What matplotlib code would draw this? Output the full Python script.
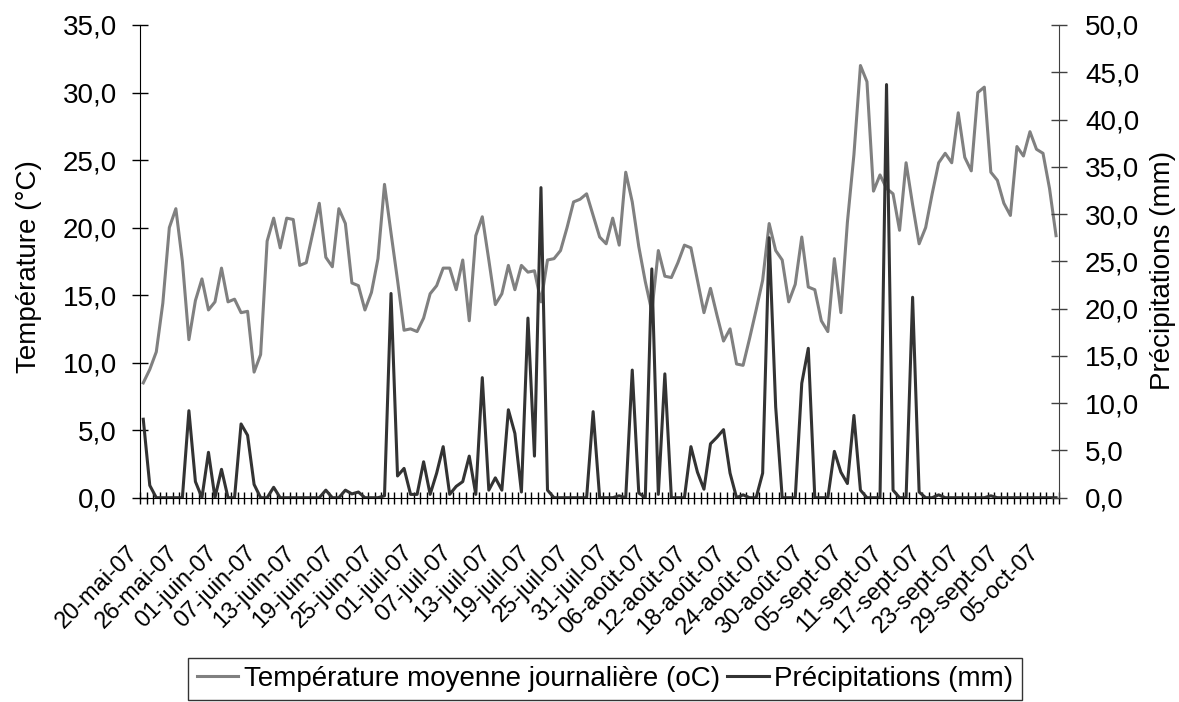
import matplotlib
matplotlib.use("Agg")
import matplotlib.pyplot as plt
import numpy as np
from matplotlib.lines import Line2D
import matplotlib.transforms as mtransforms

plt.rcParams['font.family'] = ['Liberation Sans', 'DejaVu Sans']

# Daily mean temperature (°C), 20 May -> 7 Oct 2007
temperature = [
    8.5, 9.5, 10.8, 14.4, 20.0, 21.4, 17.5, 11.7, 14.6, 16.2,
    13.9, 14.5, 17.0, 14.5, 14.7, 13.7, 13.8, 9.3, 10.6, 19.0,
    20.7, 18.5, 20.7, 20.6, 17.2, 17.4, 19.6, 21.8, 17.8, 17.1,
    21.4, 20.3, 15.9, 15.7, 13.9, 15.2, 17.7, 23.2, 19.6, 16.1,
    12.4, 12.5, 12.3, 13.3, 15.1, 15.7, 17.0, 17.0, 15.4, 17.6,
    13.1, 19.4, 20.8, 17.6, 14.3, 15.1, 17.2, 15.4, 17.2, 16.7,
    16.8, 14.5, 17.6, 17.7, 18.3, 20.0, 21.9, 22.1, 22.5, 20.9,
    19.3, 18.8, 20.7, 18.7, 24.1, 21.9, 18.6, 16.0, 13.8, 18.3,
    16.4, 16.3, 17.4, 18.7, 18.5, 16.1, 13.7, 15.5, 13.5, 11.6,
    12.5, 9.9, 9.8, 11.8, 13.9, 16.1, 20.3, 18.3, 17.6, 14.5,
    15.8, 19.3, 15.6, 15.4, 13.1, 12.3, 17.7, 13.7, 20.4, 25.4,
    32.0, 30.8, 22.7, 23.9, 22.9, 22.5, 19.8, 24.8, 21.7, 18.8,
    20.0, 22.5, 24.8, 25.5, 24.8, 28.5, 25.2, 24.2, 30.0, 30.4,
    24.1, 23.5, 21.8, 20.9, 26.0, 25.3, 27.1, 25.8, 25.5, 22.9,
    19.4,
]

# Daily precipitation (mm)
precipitation = [
    8.3, 1.3, 0.0, 0.0, 0.0, 0.0, 0.0, 9.2, 1.7, 0.0,
    4.8, 0.0, 3.0, 0.0, 0.0, 7.8, 6.6, 1.4, 0.0, 0.0,
    1.1, 0.0, 0.0, 0.0, 0.0, 0.0, 0.0, 0.0, 0.8, 0.0,
    0.0, 0.8, 0.4, 0.6, 0.0, 0.0, 0.0, 0.2, 21.6, 2.3,
    3.1, 0.35, 0.35, 3.8, 0.35, 2.6, 5.4, 0.35, 1.2, 1.7,
    4.4, 0.35, 12.7, 0.8, 2.1, 0.8, 9.3, 6.8, 0.6, 19.0,
    4.4, 32.8, 0.8, 0.0, 0.0, 0.0, 0.0, 0.0, 0.0, 9.1,
    0.0, 0.0, 0.0, 0.2, 0.0, 13.5, 0.5, 0.0, 24.2, 0.35,
    13.1, 0.0, 0.0, 0.0, 5.4, 2.7, 0.9, 5.7, 6.4, 7.2,
    2.6, 0.0, 0.3, 0.0, 0.0, 2.6, 27.5, 9.6, 0.0, 0.0,
    0.0, 12.1, 15.8, 0.0, 0.0, 0.0, 4.9, 2.7, 1.5, 8.7,
    0.8, 0.0, 0.0, 0.0, 43.7, 0.8, 0.0, 0.0, 21.2, 0.6,
    0.0, 0.0, 0.3, 0.0, 0.0, 0.0, 0.0, 0.0, 0.0, 0.0,
    0.2, 0.0, 0.0, 0.0, 0.0, 0.0, 0.0, 0.0, 0.0, 0.0,
    0.0,
]

date_labels = [
    "20-mai-07", "26-mai-07", "01-juin-07", "07-juin-07", "13-juin-07",
    "19-juin-07", "25-juin-07", "01-juil-07", "07-juil-07", "13-juil-07",
    "19-juil-07", "25-juil-07", "31-juil-07", "06-août-07", "12-août-07",
    "18-août-07", "24-août-07", "30-août-07", "05-sept-07", "11-sept-07",
    "17-sept-07", "23-sept-07", "29-sept-07", "05-oct-07",
]
label_step = 6

temp_ticks = np.arange(0, 36, 5)
precip_ticks = np.arange(0, 51, 5)

W, H = 1179, 702
fig = plt.figure(figsize=(W / 100, H / 100), dpi=100)
left, right, top, bottom = 140, 1059.3, 25, 497.7
ax = fig.add_axes([left / W, 1 - bottom / H, (right - left) / W, (bottom - top) / H])
ax2 = ax.twinx()

n = len(temperature)
days = np.arange(n)

temp_color = '#808080'
rain_color = '#333333'
ax.plot(days, temperature, color=temp_color, lw=2.2, solid_joinstyle='round')
ax2.plot(days, precipitation, color=rain_color, lw=2.2, solid_joinstyle='round')

ax.set_xlim(-0.5, n - 0.5)
ax.set_ylim(0, 35)
ax2.set_ylim(0, 50)

def comma(v):
    return f"{v:.1f}".replace('.', ',')

FS = 20
ax.set_yticks(temp_ticks)
ax.set_yticklabels([comma(v) for v in temp_ticks], fontsize=FS)
ax2.set_yticks(precip_ticks)
ax2.set_yticklabels([comma(v) for v in precip_ticks], fontsize=FS)
ax.tick_params(axis='y', direction='inout', length=11, width=1, pad=11, colors='black')
ax2.tick_params(axis='y', direction='inout', length=11, width=1, pad=13, color='#404040', labelcolor='black')

# x axis: a tick between every day, a label every six days
ax.set_xticks(np.arange(-0.5, n, 1.0), minor=True)
ax.set_xticks(days[::label_step])
ax.set_xticklabels(date_labels, rotation=45, ha='right', va='center',
                   rotation_mode='anchor', fontsize=17)
ax.tick_params(axis='x', which='minor', direction='inout', length=9, width=1)
ax.tick_params(axis='x', which='major', length=0, pad=33)
shift = mtransforms.ScaledTranslation(-8 / 100, -6 / 100, fig.dpi_scale_trans)
for lab in ax.get_xticklabels():
    lab.set_transform(lab.get_transform() + shift)

for s in ('top', 'right'):
    ax.spines[s].set_visible(False)
for s in ('top', 'left', 'bottom'):
    ax2.spines[s].set_visible(False)
ax.spines['left'].set_color('black')
ax.spines['bottom'].set_color('black')
ax2.spines['right'].set_color('#404040')

ax.set_ylabel('Température (°C)', fontsize=FS)
ax.yaxis.set_label_coords((42 - left) / (right - left), 0.49)
ax2.set_ylabel('Précipitations (mm)', fontsize=FS, rotation=90)
ax2.yaxis.set_label_coords((1150 - left) / (right - left), 0.48)

handles = [Line2D([], [], color=temp_color, lw=2.2), Line2D([], [], color=rain_color, lw=2.2)]
leg = fig.legend(handles, ['Température moyenne journalière (oC)', 'Précipitations (mm)'],
                 loc='center', bbox_to_anchor=(605 / W, 1 - 679 / H), ncol=2,
                 fontsize=FS, frameon=True, fancybox=False, edgecolor='black',
                 handlelength=1.5, handletextpad=0.2, columnspacing=0.25,
                 borderpad=0.3, borderaxespad=0)
leg.get_frame().set_linewidth(1)

fig.savefig('out.png', dpi=100)
